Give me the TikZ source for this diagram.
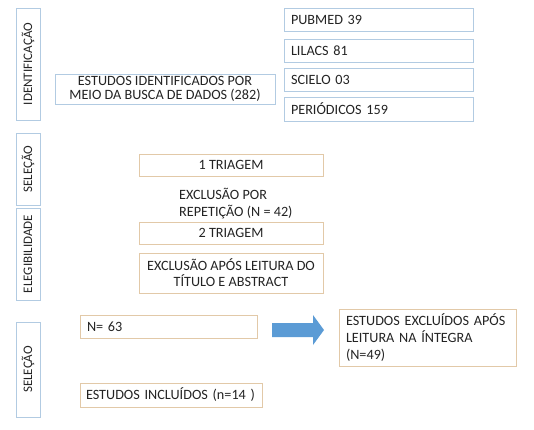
\documentclass[tikz,border=0pt]{standalone}
\usepackage{fontspec}
\setmainfont{Carlito}
\usetikzlibrary{positioning}
\definecolor{bordaazul}{RGB}{178,203,226}
\definecolor{bordalaranja}{RGB}{226,201,168}
\definecolor{setaazul}{RGB}{91,155,213}
\definecolor{texto}{RGB}{35,35,35}
\begin{document}
\begin{tikzpicture}[x=1pt, y=-1pt, every node/.style={inner sep=0pt, text=texto, font=\fontsize{14.2}{14}\selectfont},
  fase/.style={draw=bordaazul, line width=0.9pt, rotate=90, minimum height=24pt, font=\fontsize{13}{13}\selectfont},
  caixaazul/.style={draw=bordaazul, line width=0.9pt},
  caixalaranja/.style={draw=bordalaranja, line width=0.9pt},
  esquerda/.style={align=left, inner xsep=7pt}]
\useasboundingbox (0,0) rectangle (534,429);
% fases
\node[fase, minimum width=112pt] (ident) at (28,64) {IDENTIFICAÇÃO};
\node[fase, minimum width=72pt] (sel1) at (28,169) {SELEÇÃO};
\node[fase, minimum width=92pt] (eleg) at (28,254) {ELEGIBILIDADE};
\node[fase, minimum width=95pt] (sel2) at (28,369.5) {SELEÇÃO};
% identificacao
\node[caixaazul, minimum width=220pt, minimum height=30pt, align=center] (busca) at (165,89) {ESTUDOS IDENTIFICADOS POR\\MEIO DA BUSCA DE DADOS (282)};
\node[caixaazul, esquerda, text width=175pt, minimum height=23pt] (pubmed) at (378.5,19.5) {PUBMED 39};
\node[caixaazul, esquerda, text width=175pt, minimum height=23pt] (lilacs) at (378.5,50.5) {LILACS 81};
\node[caixaazul, esquerda, text width=175pt, minimum height=23pt] (scielo) at (378.5,79.5) {SCIELO 03};
\node[caixaazul, esquerda, text width=175pt, minimum height=24pt] (periodicos) at (378.5,109) {PERIÓDICOS 159};
% triagens
\node[caixalaranja, minimum width=184pt, minimum height=22pt] (triagem1) at (231,165) {1 TRIAGEM};
\node[align=left, anchor=west, font=\fontsize{14.2}{17}\selectfont] (repeticao) at (179,204) {EXCLUSÃO POR\\REPETIÇÃO (N = 42)};
\node[caixalaranja, minimum width=184pt, minimum height=22pt] (triagem2) at (231,233) {2 TRIAGEM};
\node[caixalaranja, minimum width=184pt, minimum height=40pt, align=center, font=\fontsize{14.2}{16}\selectfont] (titulo) at (231,273) {EXCLUSÃO APÓS LEITURA DO\\TÍTULO E ABSTRACT};
% selecao
\node[caixalaranja, esquerda, text width=163pt, minimum height=23pt] (n63) at (168.5,326.5) {N= 63};
\node[caixalaranja, esquerda, text width=163pt, minimum height=57pt, font=\fontsize{14.2}{17}\selectfont] (excluidos) at (427.5,337.5) {ESTUDOS EXCLUÍDOS APÓS\\LEITURA NA ÍNTEGRA\\(N=49)};
\node[caixalaranja, esquerda, inner xsep=6pt, text width=170pt, minimum height=24pt] (incluidos) at (171,395) {ESTUDOS INCLUÍDOS (n=14 )};
\fill[setaazul] (272,323) -- (313,323) -- (313,315) -- (324,330) -- (313,345) -- (313,337) -- (272,337) -- cycle;
\end{tikzpicture}
\end{document}
